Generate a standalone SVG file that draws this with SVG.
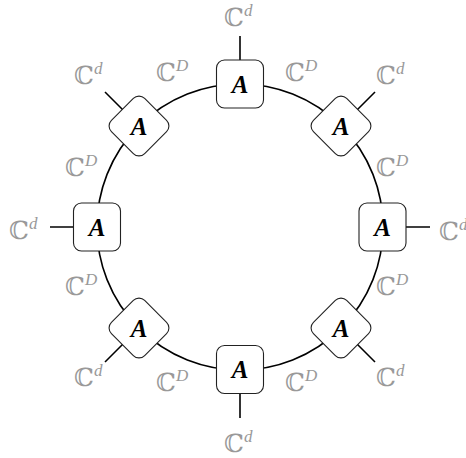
<svg xmlns="http://www.w3.org/2000/svg" width="466" height="458" viewBox="0 0 466 458">
<style>
.wire{stroke:#000;stroke-width:1.6;fill:none}
.box{fill:#fff;stroke:#222;stroke-width:1.1}
.A{font-family:"Liberation Serif",serif;font-weight:bold;font-style:italic;font-size:25px;text-anchor:middle}
.lab{font-family:"DejaVu Serif","Liberation Serif",serif;font-size:25px;fill:#999}
.sup{font-family:"Liberation Serif",serif;font-style:italic;font-size:17px}
</style>
<rect width="466" height="458" fill="#fff"/>
<g id="connectors">
<circle class="wire" cx="240" cy="227" r="143"/>
<line class="wire" x1="240" y1="84" x2="240" y2="36"/>
<line class="wire" x1="240" y1="370" x2="240" y2="418"/>
<line class="wire" x1="97" y1="227" x2="50" y2="227"/>
<line class="wire" x1="383" y1="227" x2="430" y2="227"/>
<line class="wire" x1="139" y1="126" x2="105" y2="92"/>
<line class="wire" x1="341" y1="126" x2="375" y2="92"/>
<line class="wire" x1="139" y1="328" x2="105" y2="362"/>
<line class="wire" x1="341" y1="328" x2="375" y2="362"/>
</g>
<g id="n-top"><rect class="box" x="216.5" y="60" width="47" height="48" rx="8"/><text class="A" x="240" y="93">A</text></g>
<g id="n-bottom"><rect class="box" x="216.5" y="345.5" width="47" height="48" rx="8"/><text class="A" x="240" y="378">A</text></g>
<g id="n-left"><rect class="box" x="73.5" y="203" width="47" height="48" rx="8"/><text class="A" x="97" y="235.5">A</text></g>
<g id="n-right"><rect class="box" x="359" y="203" width="47" height="48" rx="8"/><text class="A" x="382.5" y="235.5">A</text></g>
<g id="n-ul"><rect class="box" x="115.5" y="102.5" width="47" height="47" rx="8" transform="rotate(45 139 126)"/><text class="A" x="139" y="134.5">A</text></g>
<g id="n-ur"><rect class="box" x="317.5" y="102.5" width="47" height="47" rx="8" transform="rotate(45 341 126)"/><text class="A" x="341" y="134.5">A</text></g>
<g id="n-ll"><rect class="box" x="115.5" y="304.5" width="47" height="47" rx="8" transform="rotate(45 139 328)"/><text class="A" x="139" y="336.5">A</text></g>
<g id="n-lr"><rect class="box" x="317.5" y="304.5" width="47" height="47" rx="8" transform="rotate(45 341 328)"/><text class="A" x="341" y="336.5">A</text></g>
<g id="labels">
<text class="lab" x="224" y="26">ℂ<tspan class="sup" dy="-10">d</tspan></text>
<text class="lab" x="224" y="452">ℂ<tspan class="sup" dy="-10">d</tspan></text>
<text class="lab" x="9" y="239">ℂ<tspan class="sup" dy="-10">d</tspan></text>
<text class="lab" x="439" y="240">ℂ<tspan class="sup" dy="-10">d</tspan></text>
<text class="lab" x="74" y="84">ℂ<tspan class="sup" dy="-10">d</tspan></text>
<text class="lab" x="376" y="84">ℂ<tspan class="sup" dy="-10">d</tspan></text>
<text class="lab" x="74" y="386">ℂ<tspan class="sup" dy="-10">d</tspan></text>
<text class="lab" x="376" y="386">ℂ<tspan class="sup" dy="-10">d</tspan></text>
<text class="lab" x="156" y="81">ℂ<tspan class="sup" dy="-10">D</tspan></text>
<text class="lab" x="285" y="81">ℂ<tspan class="sup" dy="-10">D</tspan></text>
<text class="lab" x="156" y="391">ℂ<tspan class="sup" dy="-10">D</tspan></text>
<text class="lab" x="285" y="391">ℂ<tspan class="sup" dy="-10">D</tspan></text>
<text class="lab" x="65" y="176">ℂ<tspan class="sup" dy="-10">D</tspan></text>
<text class="lab" x="376" y="176">ℂ<tspan class="sup" dy="-10">D</tspan></text>
<text class="lab" x="65" y="295">ℂ<tspan class="sup" dy="-10">D</tspan></text>
<text class="lab" x="376" y="295">ℂ<tspan class="sup" dy="-10">D</tspan></text>
</g>
</svg>
